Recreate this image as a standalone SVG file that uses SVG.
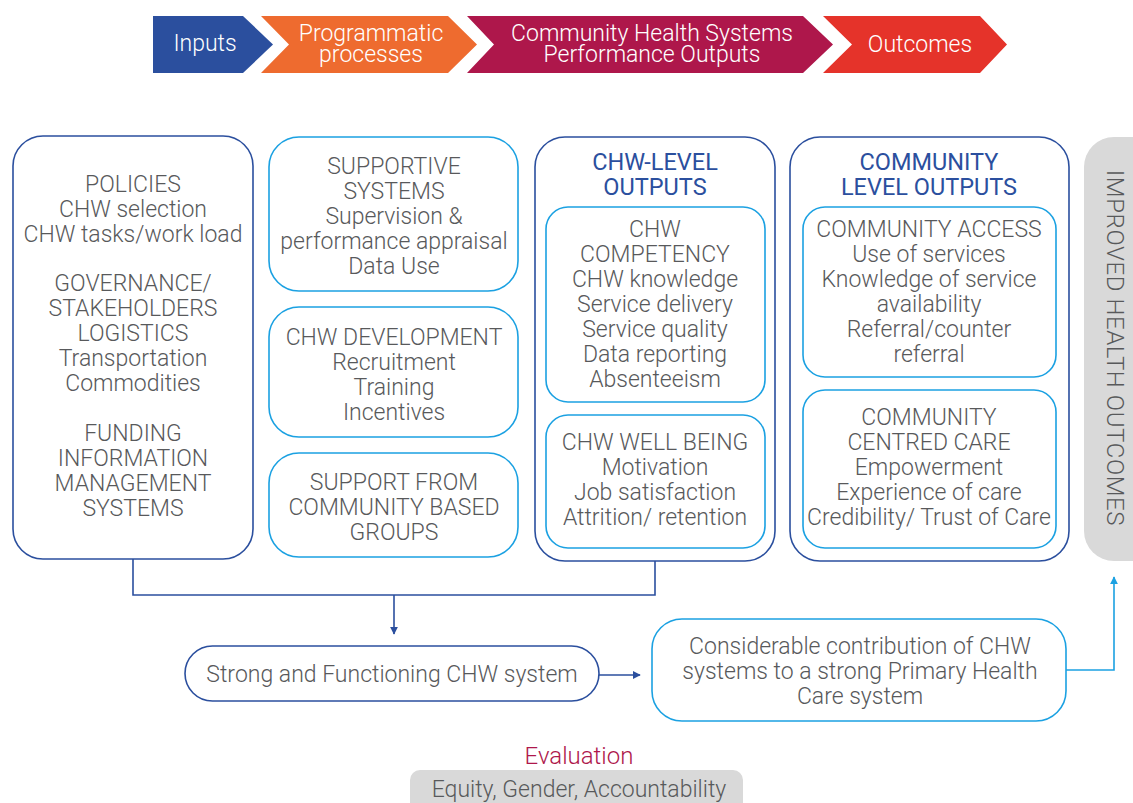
<svg xmlns="http://www.w3.org/2000/svg" width="1133" height="803" viewBox="0 0 1133 803">
  <style>
    text { font-family: Roboto, "Liberation Sans", sans-serif; font-weight: 300; text-anchor: middle; }
    .hdr { fill: #ffffff; font-size: 23px; }
    .t { fill: #58595b; font-size: 23px; }
    .h { fill: #2b4f9e; font-size: 23.5px; font-weight: 400; }
    .dark { fill: #ffffff; stroke: #2b4f9e; stroke-width: 1.6; }
    .light { fill: #ffffff; stroke: #1ba1e2; stroke-width: 1.6; }
    .conn { fill: none; stroke: #2b4f9e; stroke-width: 1.6; }
    .conn2 { fill: none; stroke: #1ba1e2; stroke-width: 1.6; }
  </style>
  <defs>
    <marker id="ahBlue" viewBox="0 0 10 10" refX="9" refY="5" markerWidth="5" markerHeight="5" orient="auto" markerUnits="strokeWidth">
      <path d="M0,0 L10,5 L0,10 Z" fill="#2b4f9e"/>
    </marker>
    <marker id="ahCyan" viewBox="0 0 10 10" refX="9" refY="5" markerWidth="5" markerHeight="5" orient="auto" markerUnits="strokeWidth">
      <path d="M0,0 L10,5 L0,10 Z" fill="#1ba1e2"/>
    </marker>
  </defs>

  <rect width="1133" height="803" fill="#ffffff"/>

  <!-- stage banner -->
  <g id="stage-inputs">
    <path d="M153,16 L243,16 L273,44.5 L243,73 L153,73 Z" fill="#2b4f9e"/>
    <text class="hdr" x="205" y="51">Inputs</text>
  </g>
  <g id="stage-processes">
    <path d="M261,16 L448,16 L477,44.5 L448,73 L261,73 L289,44.5 Z" fill="#ee6b2f"/>
    <text class="hdr" x="371" y="41">Programmatic</text>
    <text class="hdr" x="371" y="62">processes</text>
  </g>
  <g id="stage-outputs">
    <path d="M467,16 L803,16 L833,44.5 L803,73 L467,73 L494,44.5 Z" fill="#ae174b"/>
    <text class="hdr" x="652" y="41">Community Health Systems</text>
    <text class="hdr" x="652" y="62">Performance Outputs</text>
  </g>
  <g id="stage-outcomes">
    <path d="M823,16 L980,16 L1007,44.5 L980,73 L823,73 L852,44.5 Z" fill="#e5332a"/>
    <text class="hdr" x="920" y="52">Outcomes</text>
  </g>

  <!-- inputs column -->
  <g id="inputs">
    <rect class="dark" x="13" y="136" width="240" height="423" rx="30"/>
    <text class="t" x="133" y="192">POLICIES</text>
    <text class="t" x="133" y="217">CHW selection</text>
    <text class="t" x="133" y="242">CHW tasks/work load</text>
    <text class="t" x="133" y="291">GOVERNANCE/</text>
    <text class="t" x="133" y="316">STAKEHOLDERS</text>
    <text class="t" x="133" y="341">LOGISTICS</text>
    <text class="t" x="133" y="366">Transportation</text>
    <text class="t" x="133" y="391">Commodities</text>
    <text class="t" x="133" y="441">FUNDING</text>
    <text class="t" x="133" y="466">INFORMATION</text>
    <text class="t" x="133" y="491">MANAGEMENT</text>
    <text class="t" x="133" y="516">SYSTEMS</text>
  </g>

  <!-- programmatic processes column -->
  <g id="supportive-systems">
    <rect class="light" x="269" y="137" width="249" height="154" rx="30"/>
    <text class="t" x="394" y="174">SUPPORTIVE</text>
    <text class="t" x="394" y="199">SYSTEMS</text>
    <text class="t" x="394" y="224">Supervision &amp;</text>
    <text class="t" x="394" y="249">performance appraisal</text>
    <text class="t" x="394" y="274">Data Use</text>
  </g>
  <g id="chw-development">
    <rect class="light" x="269" y="307" width="249" height="130" rx="30"/>
    <text class="t" x="394" y="345">CHW DEVELOPMENT</text>
    <text class="t" x="394" y="370">Recruitment</text>
    <text class="t" x="394" y="395">Training</text>
    <text class="t" x="394" y="420">Incentives</text>
  </g>
  <g id="community-support">
    <rect class="light" x="269" y="453" width="249" height="104" rx="30"/>
    <text class="t" x="394" y="490">SUPPORT FROM</text>
    <text class="t" x="394" y="515">COMMUNITY BASED</text>
    <text class="t" x="394" y="540">GROUPS</text>
  </g>

  <!-- CHW-level outputs -->
  <g id="chw-level-outputs">
    <rect class="dark" x="535" y="137" width="240" height="424" rx="30"/>
    <text class="h" x="655" y="170">CHW-LEVEL</text>
    <text class="h" x="655" y="195">OUTPUTS</text>
  </g>
  <g id="chw-competency">
    <rect class="light" x="546" y="207" width="219" height="195" rx="22"/>
    <text class="t" x="655" y="237">CHW</text>
    <text class="t" x="655" y="262">COMPETENCY</text>
    <text class="t" x="655" y="287">CHW knowledge</text>
    <text class="t" x="655" y="312">Service delivery</text>
    <text class="t" x="655" y="337">Service quality</text>
    <text class="t" x="655" y="362">Data reporting</text>
    <text class="t" x="655" y="387">Absenteeism</text>
  </g>
  <g id="chw-well-being">
    <rect class="light" x="546" y="415" width="219" height="133" rx="22"/>
    <text class="t" x="655" y="450">CHW WELL BEING</text>
    <text class="t" x="655" y="475">Motivation</text>
    <text class="t" x="655" y="500">Job satisfaction</text>
    <text class="t" x="655" y="525">Attrition/ retention</text>
  </g>

  <!-- community-level outputs -->
  <g id="community-level-outputs">
    <rect class="dark" x="790" y="137" width="279" height="424" rx="30"/>
    <text class="h" x="929" y="170">COMMUNITY</text>
    <text class="h" x="929" y="195">LEVEL OUTPUTS</text>
  </g>
  <g id="community-access">
    <rect class="light" x="803" y="207" width="253" height="170" rx="22"/>
    <text class="t" x="929" y="237">COMMUNITY ACCESS</text>
    <text class="t" x="929" y="262">Use of services</text>
    <text class="t" x="929" y="287">Knowledge of service</text>
    <text class="t" x="929" y="312">availability</text>
    <text class="t" x="929" y="337">Referral/counter</text>
    <text class="t" x="929" y="362">referral</text>
  </g>
  <g id="community-centred-care">
    <rect class="light" x="803" y="390" width="253" height="158" rx="22"/>
    <text class="t" x="929" y="425">COMMUNITY</text>
    <text class="t" x="929" y="450">CENTRED CARE</text>
    <text class="t" x="929" y="475">Empowerment</text>
    <text class="t" x="929" y="500">Experience of care</text>
    <text class="t" x="929" y="525">Credibility/ Trust of Care</text>
  </g>

  <!-- outcome bar -->
  <g id="improved-health-outcomes">
    <rect x="1084" y="137" width="80" height="424" rx="30" fill="#d9d9d9"/>
    <text class="t" transform="translate(1107,348) rotate(90)" x="0" y="0" style="font-size:24px; letter-spacing:0.6px">IMPROVED HEALTH OUTCOMES</text>
  </g>

  <!-- result boxes -->
  <g id="strong-chw-system">
    <rect class="dark" x="185" y="646" width="414" height="55" rx="27.5"/>
    <text class="t" x="392" y="682">Strong and Functioning CHW system</text>
  </g>
  <g id="phc-contribution">
    <rect class="light" x="652" y="619" width="414" height="102" rx="30"/>
    <text class="t" x="860" y="654">Considerable contribution of CHW</text>
    <text class="t" x="860" y="679">systems to a strong Primary Health</text>
    <text class="t" x="860" y="704">Care system</text>
  </g>

  <!-- connectors -->
  <g id="connectors">
    <path class="conn" d="M133,559 V595 H655 V561"/>
    <path class="conn" d="M394,595 V634" marker-end="url(#ahBlue)"/>
    <path class="conn" d="M599,675 H640" marker-end="url(#ahBlue)"/>
    <path class="conn2" d="M1066,670 H1114 V577" marker-end="url(#ahCyan)"/>
  </g>

  <!-- evaluation -->
  <g id="evaluation">
    <text x="579" y="764" style="fill:#ae174b; font-size:24px; font-weight:300">Evaluation</text>
    <rect x="410" y="770" width="333" height="50" rx="10" fill="#d9d9d9"/>
    <text class="t" x="579" y="797">Equity, Gender, Accountability</text>
  </g>
</svg>
